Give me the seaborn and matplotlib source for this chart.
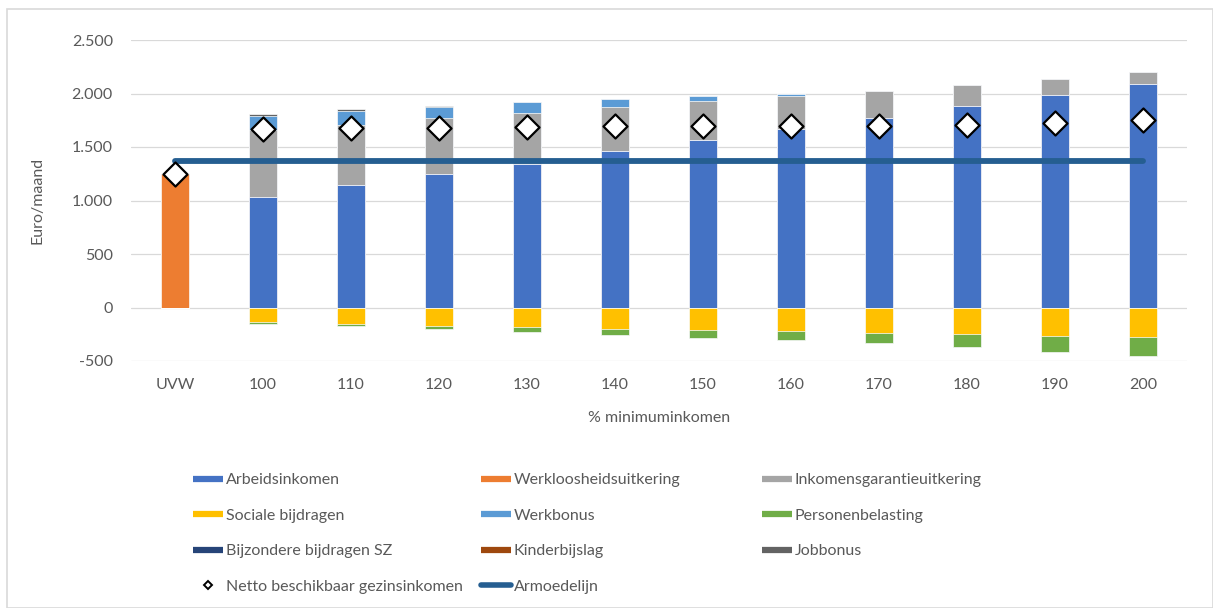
import numpy as np
import matplotlib
matplotlib.use("Agg")
import matplotlib.pyplot as plt
from matplotlib.lines import Line2D
from matplotlib.patches import Rectangle
import matplotlib.ticker as ticker
import seaborn as sns

# Data (euro per maand)
categories = ["UVW", "100", "110", "120", "130", "140", "150", "160", "170", "180", "190", "200"]
arbeidsinkomen = [0, 1036, 1148, 1251, 1340, 1462, 1567, 1670, 1772, 1881, 1986, 2089]
werkloosheid = [1250, 0, 0, 0, 0, 0, 0, 0, 0, 0, 0, 0]
inkomensgarantie = [0, 619, 556, 518, 479, 410, 363, 304, 255, 202, 149, 108]
werkbonus = [0, 133, 130, 109, 99, 74, 47, 25, 0, 0, 0, 0]
jobbonus = [0, 25, 22, 9, 0, 0, 0, 0, 0, 0, 0, 0]
kinderbijslag = [0, 0, 0, 0, 0, 0, 0, 0, 0, 0, 0, 0]
sociale_bijdragen = [0, -134, -152, -171, -183, -199, -208, -224, -239, -249, -264, -277]
personenbelasting = [0, -17, -25, -31, -50, -59, -74, -83, -93, -123, -149, -176]
bijzondere_bijdragen = [0, 0, 0, 0, 0, 0, 0, 0, 0, 0, 0, 0]
netto_inkomen = [1250, 1665, 1682, 1680, 1683, 1692, 1695, 1692, 1695, 1708, 1728, 1750]
armoedelijn = [1365, 1365, 1365, 1365, 1365, 1365, 1365, 1365, 1365, 1365, 1365, 1365]

colors = {
    "Arbeidsinkomen": "#4472C4",
    "Werkloosheidsuitkering": "#ED7D31",
    "Inkomensgarantieuitkering": "#A5A5A5",
    "Sociale bijdragen": "#FFC000",
    "Werkbonus": "#5B9BD5",
    "Personenbelasting": "#70AD47",
    "Bijzondere bijdragen SZ": "#264478",
    "Kinderbijslag": "#9E480E",
    "Jobbonus": "#636363",
}
line_color = "#255E91"
text_color = "#595959"

sns.set_theme(style="white")
plt.rcParams["font.family"] = ["Lato", "DejaVu Sans"]

fig = plt.figure(figsize=(12.13, 6.08), dpi=100)
ax = fig.add_axes([131 / 1213, 1 - 361 / 608, (1187 - 131) / 1213, (361 - 40) / 608])

# stacked bars: draw cumulative totals from the top layer down
pos_layers = [
    ("Arbeidsinkomen", arbeidsinkomen),
    ("Werkloosheidsuitkering", werkloosheid),
    ("Kinderbijslag", kinderbijslag),
    ("Inkomensgarantieuitkering", inkomensgarantie),
    ("Werkbonus", werkbonus),
    ("Jobbonus", jobbonus),
]
neg_layers = [
    ("Sociale bijdragen", sociale_bijdragen),
    ("Personenbelasting", personenbelasting),
    ("Bijzondere bijdragen SZ", bijzondere_bijdragen),
]

bar_kws = dict(width=0.32, saturation=1, errorbar=None, edgecolor="white", linewidth=0.5, ax=ax)
for layers in (pos_layers, neg_layers):
    cum = np.cumsum([np.array(v) for _, v in layers], axis=0)
    for i in range(len(layers) - 1, -1, -1):
        name = layers[i][0]
        sns.barplot(x=categories, y=cum[i], color=colors[name], **bar_kws)

# poverty line and net income markers
sns.lineplot(x=categories, y=armoedelijn, sort=False, color=line_color, linewidth=4.2,
             solid_capstyle="round", ax=ax, zorder=4)
sns.scatterplot(x=categories, y=netto_inkomen, marker="D", s=150, color="white",
                edgecolor="black", linewidth=1.6, ax=ax, zorder=5)

ax.set_xlim(-0.5, 11.5)
ax.set_ylim(-500, 2500)
ax.yaxis.set_major_locator(ticker.MultipleLocator(500))
ax.yaxis.set_major_formatter(ticker.FuncFormatter(lambda v, p: f"{int(v):,}".replace(",", ".")))
ax.grid(axis="y", color="#D9D9D9", linewidth=0.9)
ax.set_axisbelow(True)
for s in ax.spines.values():
    s.set_visible(False)
ax.tick_params(axis="both", length=0, labelsize=11.5, labelcolor=text_color)
ax.tick_params(axis="y", pad=13)
ax.tick_params(axis="x", pad=12)

ax.set_xlabel("% minimuminkomen", fontsize=11.5, color=text_color)
ax.set_ylabel("Euro/maand", fontsize=11.5, color=text_color)
ax.xaxis.set_label_coords(0.5, (361 - 418) / 321)
ax.xaxis.label.set_va("center")
ax.yaxis.set_label_coords((38 - 131) / 1056, 0.5)
ax.yaxis.label.set_va("center")
ax.yaxis.label.set_rotation_mode("anchor")

# legend in three columns of equal width
def patch(name):
    return Line2D([0], [0], color=colors[name], linewidth=4.5, solid_capstyle="butt")

netto_handle = Line2D([0], [0], linestyle="none", marker="D", markersize=4.5,
                      markerfacecolor="white", markeredgecolor="black", markeredgewidth=1.4)
armoede_handle = Line2D([0], [0], color=line_color, linewidth=4, solid_capstyle="round")

columns = [
    [(patch("Arbeidsinkomen"), "Arbeidsinkomen"),
     (patch("Sociale bijdragen"), "Sociale bijdragen"),
     (patch("Bijzondere bijdragen SZ"), "Bijzondere bijdragen SZ"),
     (netto_handle, "Netto beschikbaar gezinsinkomen")],
    [(patch("Werkloosheidsuitkering"), "Werkloosheidsuitkering"),
     (patch("Werkbonus"), "Werkbonus"),
     (patch("Kinderbijslag"), "Kinderbijslag"),
     (armoede_handle, "Armoedelijn")],
    [(patch("Inkomensgarantieuitkering"), "Inkomensgarantieuitkering"),
     (patch("Personenbelasting"), "Personenbelasting"),
     (patch("Jobbonus"), "Jobbonus")],
]
col_x = [193, 481, 762]
for x, col in zip(col_x, columns):
    leg = fig.legend([h for h, _ in col], [l for _, l in col], loc="upper left",
                     bbox_to_anchor=(x / 1213, 1 - 473 / 608), frameon=False,
                     fontsize=11.5, labelcolor=text_color, handlelength=1.9,
                     handletextpad=0.15, labelspacing=1.34, borderpad=0, borderaxespad=0,
                     numpoints=1)

# light chart border
fig.patches.append(Rectangle((7 / 1213, 0.5 / 608), 1 - 7.5 / 1213, 1 - 9.5 / 608,
                             transform=fig.transFigure, fill=False,
                             edgecolor="#D9D9D9", linewidth=1.2))

fig.savefig("out.png", dpi=100)
